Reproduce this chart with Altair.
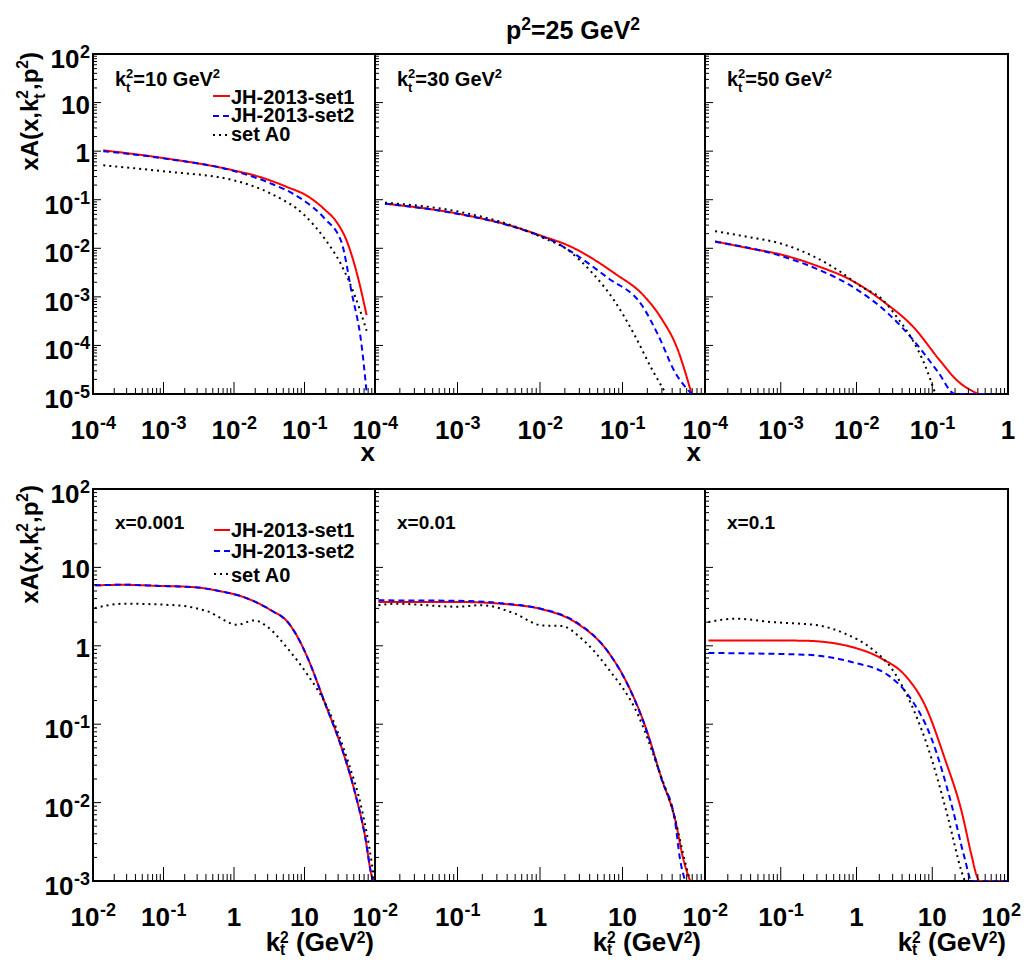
import altair as alt
import pandas as pd

FONT = "Liberation Sans"

SERIES = ["JH-2013-set1", "JH-2013-set2", "set A0"]
COLORS = ["#ff0000", "#0000ff", "#000000"]
DASHES = [[1, 0], [6, 4], [2, 4]]

# ---------------- top row: xA(x) at fixed kt^2 ----------------
k10_set1_x = [1.4e-4, 1e-3, 1e-2, 0.024, 0.058, 0.106, 0.193, 0.284, 0.394, 0.547, 0.76]
k10_set1_y = [1.04, 0.72, 0.40, 0.29, 0.18, 0.123, 0.063, 0.035, 0.0146, 0.00325, 4.2e-4]
k10_set2_x = [1.4e-4, 1e-3, 1e-2, 0.03, 0.0895, 0.193, 0.334, 0.465, 0.646, 0.76]
k10_set2_y = [1.0, 0.71, 0.39, 0.23, 0.105, 0.041, 0.0135, 1.26e-3, 1.0e-4, 1.1e-5]
k10_a0_x = [1.4e-4, 1e-3, 1e-2, 0.0334, 0.1, 0.193, 0.334, 0.578, 0.76]
k10_a0_y = [0.51, 0.385, 0.25, 0.133, 0.048, 0.0158, 0.0045, 6.8e-4, 2.0e-4]

k30_set1_x = [1.32e-4, 1.02e-3, 5.0e-3, 0.01, 0.0242, 0.0813, 0.179, 0.299, 0.454, 0.689]
k30_set1_y = [0.083, 0.0515, 0.0274, 0.0185, 0.0106, 0.003, 1.08e-3, 3.5e-4, 9.3e-5, 1.0e-5]
k30_set2_x = [1.32e-4, 1.02e-3, 5.0e-3, 0.01, 0.0151, 0.0242, 0.0676, 0.171, 0.272, 0.433, 0.689]
k30_set2_y = [0.083, 0.051, 0.027, 0.018, 0.0135, 8.4e-3, 2.4e-3, 6.8e-4, 1.6e-4, 2.8e-5, 1.0e-5]
k30_a0_x = [1.32e-4, 1.02e-3, 5.0e-3, 0.01, 0.022, 0.0424, 0.0813, 0.141, 0.226, 0.327]
k30_a0_y = [0.087, 0.057, 0.028, 0.0175, 9.1e-3, 3.2e-3, 7.9e-4, 1.6e-4, 3.3e-5, 1.1e-5]

k50_set1_x = [1.36e-4, 3.7e-4, 1.02e-3, 2.83e-3, 9.55e-3, 0.0215, 0.0592, 0.12, 0.221, 0.406]
k50_set1_y = [0.0139, 0.0101, 7.4e-3, 4.5e-3, 2.0e-3, 8.5e-4, 2.2e-4, 5.4e-5, 1.8e-5, 1.0e-5]
k50_set2_x = [1.36e-4, 1.02e-3, 2.83e-3, 9.55e-3, 0.0263, 0.0592, 0.12, 0.2, 0.61]
k50_set2_y = [0.0136, 6.9e-3, 3.9e-3, 1.5e-3, 4.5e-4, 1.17e-4, 2.8e-5, 1.0e-5, 1.0e-5]
k50_a0_x = [1.36e-4, 3.7e-4, 1.02e-3, 2.83e-3, 5.75e-3, 0.0117, 0.0215, 0.0356, 0.0537, 0.0802, 0.11]
k50_a0_y = [0.0224, 0.0171, 0.0124, 6.6e-3, 3.5e-3, 1.6e-3, 9.1e-4, 3.5e-4, 1.38e-4, 3.9e-5, 1.0e-5]

# ---------------- bottom row: xA(kt^2) at fixed x ----------------
x001_set1_x = [0.0106, 0.027, 0.0895, 0.27, 0.65, 1.25, 3.34, 5.8, 8.0, 11.2, 19.3, 33.4, 51.8, 72.0, 89.5, 94.0]
x001_set1_y = [5.9, 6.0, 5.8, 5.6, 4.95, 4.3, 2.84, 2.0, 1.29, 0.686, 0.19, 0.051, 0.0136, 3.8e-3, 1.17e-3, 1.0e-3]
x001_set2_x = [0.0106, 0.027, 0.0895, 0.27, 0.65, 1.25, 3.34, 5.8, 8.0, 11.2, 19.3, 33.4, 51.8, 72.0, 89.5, 94.0]
x001_set2_y = [5.9, 6.0, 5.8, 5.6, 4.95, 4.3, 2.84, 2.0, 1.29, 0.686, 0.19, 0.051, 0.0136, 3.8e-3, 1.17e-3, 1.0e-3]
x001_a0_x = [0.0106, 0.027, 0.155, 0.416, 1.12, 1.93, 2.99, 5.78, 11.2, 21.5, 41.6, 64.6, 89.5, 97.7]
x001_a0_y = [3.03, 3.44, 3.28, 2.76, 1.86, 2.11, 1.74, 0.92, 0.42, 0.158, 0.033, 8.4e-3, 1.75e-3, 1.0e-3]

x01_set1_x = [0.011, 0.102, 0.413, 1.05, 2.65, 6.73, 11.7, 18.7, 29.9, 43.3, 54.6, 66.0]
x01_set1_y = [3.62, 3.62, 3.38, 2.93, 2.01, 0.83, 0.313, 0.097, 0.020, 6.2e-3, 1.9e-3, 1.0e-3]
x01_set2_x = [0.011, 0.102, 0.413, 1.05, 2.65, 6.73, 11.7, 18.7, 29.9, 43.3, 49.8, 57.5]
x01_set2_y = [3.8, 3.75, 3.42, 2.95, 2.05, 0.83, 0.31, 0.095, 0.0195, 5.8e-3, 1.9e-3, 1.0e-3]
x01_a0_x = [0.011, 0.0175, 0.102, 0.196, 0.498, 1.05, 1.83, 3.2, 6.73, 15.5, 27.2, 43.3, 57.3, 66.0]
x01_a0_y = [3.29, 3.44, 3.15, 3.3, 2.57, 1.82, 1.79, 1.23, 0.51, 0.13, 0.027, 6.2e-3, 1.75e-3, 1.0e-3]

x1_set1_x = [0.0111, 0.0759, 0.209, 0.865, 2.15, 4.37, 8.02, 14.7, 24.5, 33.1, 38.6, 41.7, 100.0]
x1_set1_y = [1.17, 1.17, 1.16, 0.966, 0.686, 0.42, 0.174, 0.036, 7.6e-3, 2.1e-3, 1.17e-3, 1.0e-3, 1.0e-3]
x1_set2_x = [0.0111, 0.209, 0.865, 2.63, 4.83, 9.82, 18.1, 27.0, 33.1, 100.0]
x1_set2_y = [0.81, 0.77, 0.62, 0.42, 0.234, 0.065, 9.2e-3, 1.9e-3, 1.0e-3, 1.0e-3]
x1_a0_x = [0.0111, 0.0249, 0.0759, 0.313, 0.705, 1.58, 2.92, 5.35, 9.82, 16.3, 24.5, 26.9]
x1_a0_y = [2.01, 2.22, 2.01, 1.82, 1.43, 0.92, 0.51, 0.174, 0.036, 6.2e-3, 1.3e-3, 1.0e-3]

# ---------------- axis ticks and labels ----------------
TOP_X_DOMAIN = [1e-4, 1.0]
TOP_Y_DOMAIN = [1e-5, 1e2]
BOT_X_DOMAIN = [1e-2, 1e2]
BOT_Y_DOMAIN = [1e-3, 1e2]

top_x_major = [1e-4, 1e-3, 1e-2, 1e-1, 1.0]
top_y_major = [1e-5, 1e-4, 1e-3, 1e-2, 1e-1, 1.0, 10.0, 100.0]
bot_x_major = [1e-2, 1e-1, 1.0, 10.0, 100.0]
bot_y_major = [1e-3, 1e-2, 1e-1, 1.0, 10.0, 100.0]

top_x_label_vals = [1e-4, 1e-3, 1e-2, 1e-1, 1.0]
top_x_label_base = ["10", "10", "10", "10", "1"]
top_x_label_exp = ["-4", "-3", "-2", "-1", ""]
bot_x_label_vals = [1e-2, 1e-1, 1.0, 10.0, 100.0]
bot_x_label_base = ["10", "10", "1", "10", "10"]
bot_x_label_exp = ["-2", "-1", "", "", "2"]
top_y_label_vals = [100.0, 10.0, 1.0, 1e-1, 1e-2, 1e-3, 1e-4, 1e-5]
top_y_label_base = ["10", "10", "1", "10", "10", "10", "10", "10"]
top_y_label_exp = ["2", "", "", "-1", "-2", "-3", "-4", "-5"]
bot_y_label_vals = [100.0, 10.0, 1.0, 1e-1, 1e-2, 1e-3]
bot_y_label_base = ["10", "10", "1", "10", "10", "10"]
bot_y_label_exp = ["2", "", "", "-1", "-2", "-3"]

TOP_W = [282, 330, 303]
TOP_H = 340
BOT_H = 392

ONE = pd.DataFrame({"a": [0]})

ADV = {"0": .556, "1": .556, "2": .556, "3": .556, "4": .556, "5": .556, "6": .556,
       "7": .556, "8": .556, "9": .556, "k": .556, "t": .333, "x": .556, "A": .722,
       "(": .333, ")": .333, ",": .278, "p": .611, "=": .584, " ": .278, "G": .778,
       "e": .556, "V": .667, ".": .278, "-": .333}

LAB = 26   # tick label size
EXP = 18   # exponent size


def tw(s, size):
    return sum(ADV.get(ch, 0.6) for ch in s) * size


def minors(decades):
    out = []
    for d in decades[:-1]:
        for m in range(2, 10):
            out.append(m * d)
    return out


def rich(parts, x0, y0, size, angle=0, align="left", sup=0.42, sub=0.3, frac=0.7):
    small = frac * size
    items = []
    cur = 0.0
    for txt, kind in parts:
        if kind == "n":
            stripped = txt.lstrip(" ")
            cur += tw(txt[: len(txt) - len(stripped)], size)
            items.append((stripped, cur, 0.0, size))
            cur += tw(stripped, size)
        elif kind == "sup":
            items.append((txt, cur, -sup * size, small))
            cur += tw(txt, small)
        elif kind == "ss":
            lo, hi = txt
            items.append((lo, cur, sub * size, small))
            items.append((hi, cur, -sup * size, small))
            cur += max(tw(lo, small), tw(hi, small))
    shift = {"left": 0.0, "center": -cur / 2, "right": -cur}[align]
    layers = []
    for txt, a, p, fs in items:
        a += shift
        if angle == 0:
            sx, sy = x0 + a, y0 + p
        else:
            sx, sy = x0 + p, y0 - a
        layers.append(
            alt.Chart(ONE).mark_text(text=txt, font=FONT, fontSize=fs, fontWeight="bold",
                                     align="left", baseline="alphabetic", angle=angle,
                                     color="black")
            .encode(x=alt.value(sx), y=alt.value(sy)))
    return layers


def x_labels(vals, bases, exps, scale, y0, nudge=None):
    nudge = nudge or {}
    layers = []
    for v, b, e in zip(vals, bases, exps):
        d = pd.DataFrame({"v": [v], "base": [b], "exp": [e]})
        extra = nudge.get(v, 0)
        xe = alt.X("v:Q", scale=scale, axis=None)
        if e == "":
            layers.append(alt.Chart(d).mark_text(align="center", baseline="alphabetic", font=FONT, dx=extra,
                                                 fontSize=LAB, fontWeight="bold", color="black")
                          .encode(x=xe, y=alt.value(y0), text="base:N"))
        else:
            c = (tw(b, LAB) - tw(e, EXP)) / 2 + extra
            layers.append(alt.Chart(d).mark_text(align="right", baseline="alphabetic", font=FONT, dx=c,
                                                 fontSize=LAB, fontWeight="bold", color="black")
                          .encode(x=xe, y=alt.value(y0), text="base:N"))
            layers.append(alt.Chart(d).mark_text(align="left", baseline="alphabetic", font=FONT, dx=c + 0.5,
                                                 fontSize=EXP, fontWeight="bold", color="black")
                          .encode(x=xe, y=alt.value(y0 - 10), text="exp:N"))
    return layers


def y_labels(vals, bases, exps, scale, x0=-3):
    layers = []
    for v, b, e in zip(vals, bases, exps):
        d = pd.DataFrame({"v": [v], "base": [b], "exp": [e]})
        ye = alt.Y("v:Q", scale=scale, axis=None)
        if e == "":
            layers.append(alt.Chart(d).mark_text(align="right", baseline="alphabetic", font=FONT, dy=11,
                                                 fontSize=LAB, fontWeight="bold", color="black")
                          .encode(y=ye, x=alt.value(x0), text="base:N"))
        else:
            we = tw(e, EXP)
            layers.append(alt.Chart(d).mark_text(align="right", baseline="alphabetic", font=FONT, dy=14,
                                                 fontSize=LAB, fontWeight="bold", color="black")
                          .encode(y=ye, x=alt.value(x0 - we - 0.5), text="base:N"))
            layers.append(alt.Chart(d).mark_text(align="right", baseline="alphabetic", font=FONT, dy=4,
                                                 fontSize=EXP, fontWeight="bold", color="black")
                          .encode(y=ye, x=alt.value(x0), text="exp:N"))
    return layers


def panel(xs_list, ys_list, xdom, ydom, w, h, x_major, y_major, xlen, ylen, extras):
    xsc = alt.Scale(type="log", domain=xdom, nice=False)
    ysc = alt.Scale(type="log", domain=ydom, nice=False)
    rows = []
    for s, xv, yv in zip(SERIES, xs_list, ys_list):
        for a, b in zip(xv, yv):
            rows.append({"series": s, "x": a, "y": b})
    df = pd.DataFrame(rows)
    lines = alt.Chart(df).mark_line(clip=True, strokeWidth=2, interpolate="monotone").encode(
        x=alt.X("x:Q", scale=xsc, axis=None),
        y=alt.Y("y:Q", scale=ysc, axis=None),
        color=alt.Color("series:N", scale=alt.Scale(domain=SERIES, range=COLORS), legend=None),
        strokeDash=alt.StrokeDash("series:N", scale=alt.Scale(domain=SERIES, range=DASHES), legend=None),
    )
    layers = [lines]
    for vals, ln in [(x_major, xlen[0]), (minors(x_major), xlen[1])]:
        layers.append(alt.Chart(pd.DataFrame({"v": vals})).mark_rule(color="black", strokeWidth=1)
                      .encode(x=alt.X("v:Q", scale=xsc, axis=None), y=alt.value(h), y2=alt.value(h - ln)))
    for vals, ln in [(y_major, ylen[0]), (minors(y_major), ylen[1])]:
        layers.append(alt.Chart(pd.DataFrame({"v": vals})).mark_rule(color="black", strokeWidth=1)
                      .encode(y=alt.Y("v:Q", scale=ysc, axis=None), x=alt.value(0), x2=alt.value(ln)))
    layers += extras(xsc, ysc)
    return alt.layer(*layers).properties(width=w, height=h)


def legend_layers(x1, x2, line_ys, text_ys, size):
    out = []
    for s, c, d, ly, ty in zip(SERIES, COLORS, DASHES, line_ys, text_ys):
        out.append(alt.Chart(ONE).mark_rule(color=c, strokeDash=d, strokeWidth=2)
                   .encode(x=alt.value(x1), x2=alt.value(x2), y=alt.value(ly)))
        out += rich([(s, "n")], x2 + 1, ty, size)
    return out


YTITLE = [("xA(x,k", "n"), (("t", "2"), "ss"), (",p", "n"), ("2", "sup"), (")", "n")]
KTITLE = [("k", "n"), (("t", "2"), "ss"), (" (GeV", "n"), ("2", "sup"), (")", "n")]


def kt_note(val):
    return [("k", "n"), (("t", "2"), "ss"), ("=" + val + " GeV", "n"), ("2", "sup")]


top_sets = [
    ([k10_set1_x, k10_set2_x, k10_a0_x], [k10_set1_y, k10_set2_y, k10_a0_y], "10"),
    ([k30_set1_x, k30_set2_x, k30_a0_x], [k30_set1_y, k30_set2_y, k30_a0_y], "30"),
    ([k50_set1_x, k50_set2_x, k50_a0_x], [k50_set1_y, k50_set2_y, k50_a0_y], "50"),
]
bot_sets = [
    ([x001_set1_x, x001_set2_x, x001_a0_x], [x001_set1_y, x001_set2_y, x001_a0_y], "x=0.001"),
    ([x01_set1_x, x01_set2_x, x01_a0_x], [x01_set1_y, x01_set2_y, x01_a0_y], "x=0.01"),
    ([x1_set1_x, x1_set2_x, x1_a0_x], [x1_set1_y, x1_set2_y, x1_a0_y], "x=0.1"),
]

top_panels = []
for i, (xl, yl, kv) in enumerate(top_sets):
    w = TOP_W[i]
    h = TOP_H

    def extras(xsc, ysc, i=i, w=w, h=h, kv=kv):
        n = 4 if i < 2 else 5
        out = x_labels(top_x_label_vals[:n], top_x_label_base[:n], top_x_label_exp[:n], xsc, h + 45)
        out += rich(kt_note(kv), 22, 32, 20, frac=0.65)
        if i == 0:
            out += y_labels(top_y_label_vals, top_y_label_base, top_y_label_exp, ysc)
            out += rich(YTITLE, -55, -2, 24, angle=270, align="right", frac=0.65)
            out += legend_layers(120, 137, [42, 62, 81], [49.5, 68, 86.5], 20)
            out += rich([("x", "n")], w, h + 67, 26, align="right")
        if i == 1:
            out += rich([("x", "n")], w - 4, h + 67, 26, align="right")
            out += rich([("p", "n"), ("2", "sup"), ("=25 GeV", "n"), ("2", "sup")], 198, -15, 25,
                        align="center", sup=0.38)
        return out

    top_panels.append(panel(xl, yl, TOP_X_DOMAIN, TOP_Y_DOMAIN, w, h, top_x_major, top_y_major,
                            (12, 6), (8, 4), extras))

bot_panels = []
for i, (xl, yl, note) in enumerate(bot_sets):
    w = TOP_W[i]
    h = BOT_H

    def extras(xsc, ysc, i=i, w=w, h=h, note=note):
        n = 4 if i < 2 else 5
        nudge = {100.0: -7} if i == 2 else None
        out = x_labels(bot_x_label_vals[:n], bot_x_label_base[:n], bot_x_label_exp[:n], xsc, h + 45, nudge)
        out += rich([(note, "n")], 22, 40, 19)
        out += rich(KTITLE, w - [1, 4, 2][i], h + 70, 26, align="right", sup=0.32, sub=0.17, frac=0.6)
        if i == 0:
            out += y_labels(bot_y_label_vals, bot_y_label_base, bot_y_label_exp, ysc)
            out += rich(YTITLE, -55, -4, 24, angle=270, align="right", frac=0.65)
            out += legend_layers(121, 137, [41, 62, 85], [48, 69, 93], 20)
        return out

    bot_panels.append(panel(xl, yl, BOT_X_DOMAIN, BOT_Y_DOMAIN, w, h, bot_x_major, bot_y_major,
                            (14, 7), (8, 4), extras))

chart = (
    alt.concat(*top_panels, *bot_panels, columns=3, spacing={"row": 95, "column": 0}, bounds="flush")
    .properties(padding={"left": 6, "top": 6, "right": 0, "bottom": 0}, background="white")
    .configure_view(stroke="black", strokeWidth=2)
)

chart.save("out.html", embed_options={"renderer": "svg", "actions": False})
